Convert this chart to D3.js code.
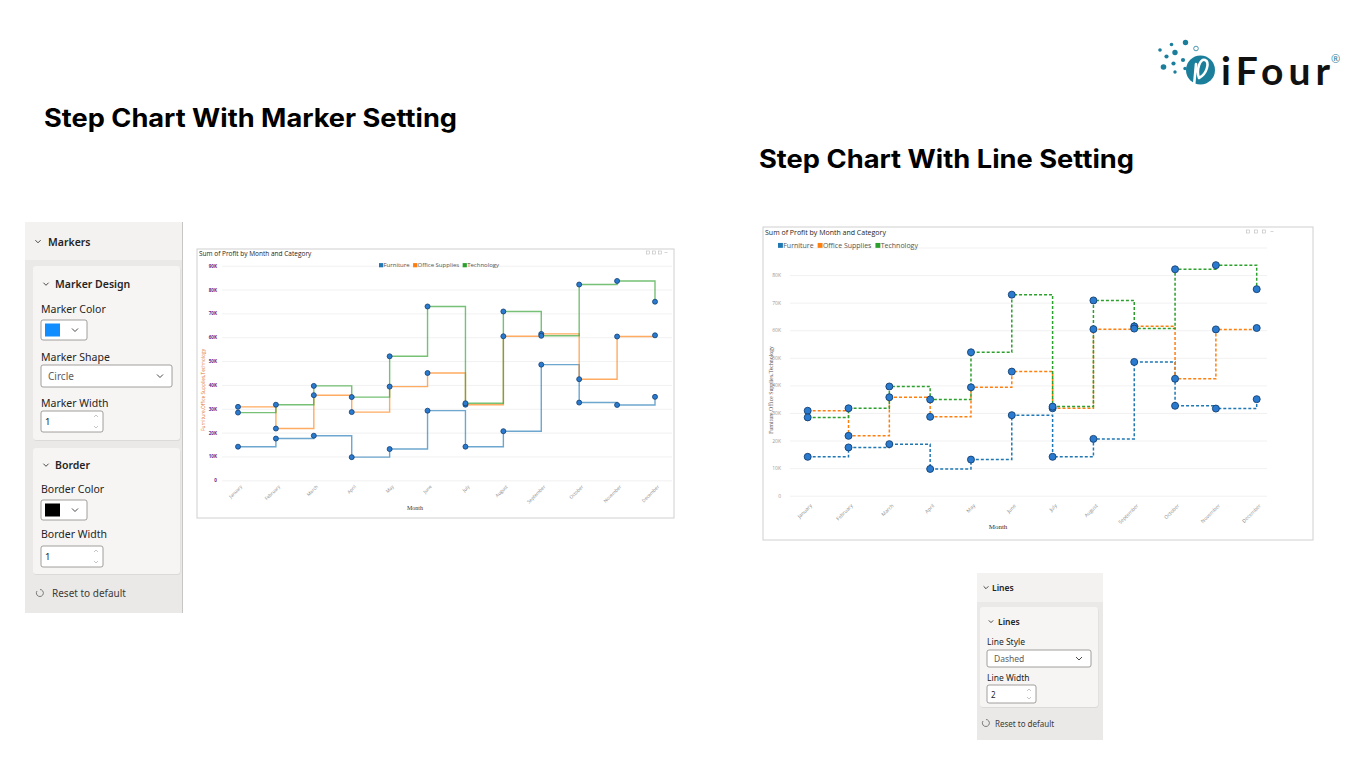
<!DOCTYPE html>
<html><head><meta charset="utf-8">
<script src="https://cdn.jsdelivr.net/npm/d3@7"></script>
<style>
html,body{margin:0;padding:0;background:#fff;}
svg{display:block;font-family:"Open Sans",sans-serif;}
</style></head>
<body><svg id="s" width="1366" height="768"></svg>
<script>
// ---------- data ----------
const months = ["January","February","March","April","May","June","July","August","September","October","November","December"];
const furniture = [14100,17500,18700,9700,13100,29200,14100,20600,48500,32600,31600,35000];
const officeSupplies = [30800,21700,35700,28600,39300,45000,31700,60400,61400,42400,60300,60800];
const technology = [28400,31700,39600,34900,52000,72900,32300,70800,60600,82100,83600,74900];
const seriesNames = ["Furniture","Office Supplies","Technology"];
const seriesColors = ["#1f77b4","#ff7f0e","#2ca02c"];
const yTicks = [0,10000,20000,30000,40000,50000,60000,70000,80000,90000];
const chartTitle = "Sum of Profit by Month and Category";
const yAxisTitle = "Furniture,Office Supplies,Technology";
const xAxisTitle = "Month";

const svg = d3.select("#s");
const seriesData = [furniture, officeSupplies, technology];

// ---------- slide headings ----------
svg.append("text").attr("x",44).attr("y",127).attr("font-family","Inter").attr("font-weight",700)
  .attr("font-size",25).attr("fill","#000").attr("textLength",413).attr("lengthAdjust","spacingAndGlyphs")
  .text("Step Chart With Marker Setting");
svg.append("text").attr("x",759).attr("y",168).attr("font-family","Inter").attr("font-weight",700)
  .attr("font-size",25).attr("fill","#000").attr("textLength",375).attr("lengthAdjust","spacingAndGlyphs")
  .text("Step Chart With Line Setting");

// ---------- logo ----------
const logo = svg.append("g");
const teal = "#1b7f9c";
const dots = [[1160,50,1.8],[1171.5,44.5,1.8],[1185.5,42.5,2.7],[1166.5,56.5,2.1],[1175,52.5,2.7],[1163.5,67,2.8],[1173.5,63.5,2.1],[1183,60,2.1],[1185,68.5,1.7],[1175,72,1.7]];
logo.selectAll("circle.d").data(dots).join("circle").attr("cx",d=>d[0]).attr("cy",d=>d[1]).attr("r",d=>d[2]).attr("fill",teal);
logo.append("circle").attr("cx",1200.5).attr("cy",70).attr("r",14.5).attr("fill",teal);
logo.append("path").attr("d","M1196,64 L1194,86 M1199,78 C1196,70 1200,58 1205,60 C1210,62 1207,74 1199,78")
  .attr("fill","none").attr("stroke","#fff").attr("stroke-width",2.6).attr("stroke-linecap","round");
logo.append("circle").attr("cx",1196).attr("cy",48.5).attr("r",2.3).attr("fill","#fff").attr("stroke",teal).attr("stroke-width",0.8);
logo.append("text").attr("x",1221).attr("y",85).attr("font-family","Lato").attr("font-weight",700).attr("font-size",39)
  .attr("fill","#111").attr("textLength",109).attr("lengthAdjust","spacing").text("iFour");
logo.append("text").attr("x",1331).attr("y",63).attr("font-size",11).attr("fill",teal).text("®");

// ---------- chart builder ----------
function drawChart(o){
  const g = svg.append("g");
  g.append("rect").attr("x",o.box[0]).attr("y",o.box[1]).attr("width",o.box[2]).attr("height",o.box[3])
    .attr("fill","#fff").attr("stroke","#d0d0d0").attr("stroke-width",1);
  g.append("text").attr("x",o.box[0]+2).attr("y",o.titleY).attr("font-family","Open Sans").attr("font-size",o.titleSize)
    .attr("fill","#252423").text(chartTitle);
  const ic = g.append("g").attr("stroke","#bbb").attr("fill","none").attr("stroke-width",0.6);
  for(let i=0;i<4;i++){
    const cx = o.iconX + i*o.iconGap;
    if(i<3) ic.append("rect").attr("x",cx-1.5).attr("y",o.iconY-1.5).attr("width",3).attr("height",3);
    else ic.append("line").attr("x1",cx-1.5).attr("x2",cx+1.5).attr("y1",o.iconY).attr("y2",o.iconY);
  }

  const x = d3.scalePoint().domain(months).range(o.xRange);
  const y = d3.scaleLinear().domain([0,90000]).range(o.yRange);

  g.append("g").attr("transform",`translate(${o.gridX[0]},0)`)
    .call(d3.axisLeft(y).tickValues(yTicks).tickSize(-(o.gridX[1]-o.gridX[0])).tickFormat(""))
    .call(a=>a.select(".domain").remove())
    .call(a=>a.selectAll("line").attr("stroke","#eeeeee").attr("stroke-width",0.8));
  g.append("g").attr("transform",`translate(${o.yLabelX},0)`)
    .call(d3.axisLeft(y).tickValues(yTicks.filter(t=>t<=o.yMaxLabel)).tickSize(0).tickPadding(0)
      .tickFormat(d=>d===0?"0":(d/1000)+"K"))
    .call(a=>a.select(".domain").remove())
    .call(a=>a.selectAll("text").attr("font-family","Open Sans").attr("font-size",o.yLabelSize)
      .attr("font-weight",o.yLabelWeight).attr("fill",o.yLabelColor));
  g.append("g").attr("transform",`translate(0,${o.xLabelY})`)
    .call(d3.axisBottom(x).tickSize(0).tickPadding(0))
    .call(a=>a.select(".domain").remove())
    .call(a=>a.selectAll("text").attr("font-family","Open Sans").attr("font-size",o.xLabelSize).attr("fill","#8a8a8a")
      .attr("text-anchor","end").attr("dy","0.3em").attr("transform","translate(3,0) rotate(-45)"));
  g.append("text").attr("transform",`translate(${o.yTitle[0]},${o.yTitle[1]}) rotate(-90)`).attr("text-anchor","middle")
    .attr("font-family",o.yTitleFont).attr("font-size",o.yTitleSize).attr("fill",o.yTitleColor).text(yAxisTitle);
  g.append("text").attr("x",o.xTitle[0]).attr("y",o.xTitle[1]).attr("text-anchor","middle")
    .attr("font-family","Liberation Serif").attr("font-size",o.xTitleSize).attr("fill","#333").text(xAxisTitle);

  const lg = g.append("g").attr("font-family","Open Sans").attr("font-size",o.legendSize).attr("fill","#555");
  let lx = o.legendX;
  seriesNames.forEach((n,i)=>{
    lg.append("rect").attr("x",lx).attr("y",o.legendY-o.legendSize*0.65).attr("width",o.legendSize*0.7).attr("height",o.legendSize*0.7).attr("fill",seriesColors[i]);
    const t = lg.append("text").attr("x",lx+o.legendSize*0.75).attr("y",o.legendY).attr("fill","#555").text(n);
    lx += o.legendSize*0.75 + t.node().getComputedTextLength() + o.legendGap;
  });

  const line = d3.line().x((d,i)=>x(months[i])).y(d=>y(d)).curve(d3.curveStepAfter);
  seriesData.forEach((s,i)=>{
    g.append("path").datum(s).attr("d",line).attr("fill","none").attr("stroke",seriesColors[i])
      .attr("stroke-width",o.lineWidth).attr("stroke-opacity",o.lineOpacity)
      .attr("stroke-dasharray",o.dash||null);
  });
  seriesData.forEach((s,i)=>{
    g.append("g").selectAll("circle").data(s).join("circle")
      .attr("cx",(d,j)=>x(months[j])).attr("cy",d=>y(d)).attr("r",o.markerR)
      .attr("fill","#2a7bd0").attr("stroke","#123f73").attr("stroke-width",o.markerStroke);
  });
}

drawChart({
  box:[197,249,477,269], titleY:256, titleSize:6.5,
  iconX:648, iconY:252.5, iconGap:6,
  xRange:[238,655], yRange:[480.3,265.7], gridX:[222,672],
  yLabelX:217, yMaxLabel:90000, yLabelSize:4.6, yLabelWeight:700, yLabelColor:"#6b1f86",
  xLabelY:486, xLabelSize:4.6,
  yTitle:[204.5,390], yTitleFont:"Open Sans", yTitleSize:4.8, yTitleColor:"#e0712a",
  xTitle:[415,510], xTitleSize:6,
  legendX:379, legendY:267, legendSize:6, legendGap:3.5,
  lineWidth:1.4, lineOpacity:0.65, markerR:2.5, markerStroke:0.8
});
drawChart({
  box:[763,227,550,313], titleY:234.5, titleSize:7,
  iconX:1248, iconY:231.5, iconGap:8,
  xRange:[807.7,1256.7], yRange:[495.7,247.5], gridX:[790,1267],
  yLabelX:781, yMaxLabel:80000, yLabelSize:5, yLabelWeight:400, yLabelColor:"#9a9a9a",
  xLabelY:505, xLabelSize:5,
  yTitle:[773,390], yTitleFont:"Liberation Serif", yTitleSize:5.8, yTitleColor:"#555",
  xTitle:[998,529], xTitleSize:7,
  legendX:778, legendY:247.5, legendSize:7, legendGap:4,
  lineWidth:1.5, lineOpacity:1, dash:"3,2", markerR:3.5, markerStroke:0.9
});

// ---------- format panels ----------
const panelFont = "Noto Sans";
function chevron(g,x,y,s){
  g.append("path").attr("d",`M${x-s},${y-s/2} L${x},${y+s/2} L${x+s},${y-s/2}`).attr("fill","none").attr("stroke","#333").attr("stroke-width",0.9);
}
function label(g,x,y,t,size,weight,color){
  g.append("text").attr("x",x).attr("y",y).attr("font-family",panelFont).attr("font-size",size||10.5)
    .attr("font-weight",weight||400).attr("fill",color||"#252423").text(t);
}
function card(g,x,y,w,h){
  g.append("rect").attr("x",x+0.5).attr("y",y+1).attr("width",w).attr("height",h).attr("rx",3).attr("fill","#dcdad8");
  g.append("rect").attr("x",x).attr("y",y).attr("width",w).attr("height",h).attr("rx",3).attr("fill","#f6f5f4");
}
function colorBtn(g,x,y,c){
  g.append("rect").attr("x",x).attr("y",y).attr("width",46).attr("height",20).attr("rx",2).attr("fill","#fff").attr("stroke","#8a8886").attr("stroke-width",0.8);
  g.append("rect").attr("x",x+4).attr("y",y+3.5).attr("width",15).attr("height",13).attr("fill",c);
  chevron(g,x+34,y+10,3);
}
function dropdown(g,x,y,w,h,t,size){
  g.append("rect").attr("x",x).attr("y",y).attr("width",w).attr("height",h).attr("rx",2).attr("fill","#fff").attr("stroke","#8a8886").attr("stroke-width",0.8);
  label(g,x+7,y+h/2+3.5,t,size,400,"#605e5c");
  chevron(g,x+w-12,y+h/2,3);
}
function spin(g,x,y,w,h,t,size){
  g.append("rect").attr("x",x).attr("y",y).attr("width",w).attr("height",h).attr("rx",2).attr("fill","#fff").attr("stroke","#8a8886").attr("stroke-width",0.8);
  label(g,x+4,y+h/2+3.5,t,size,400,"#252423");
  const sx = x+w-7;
  g.append("path").attr("d",`M${sx-2},${y+6} L${sx},${y+4} L${sx+2},${y+6} M${sx-2},${y+h-6} L${sx},${y+h-4} L${sx+2},${y+h-6}`)
    .attr("fill","none").attr("stroke","#a19f9d").attr("stroke-width",0.6);
}
function resetIcon(g,x,y){
  g.append("path").attr("d",`M${x-3},${y-2} A3.5,3.5 0 1 0 ${x},${y-3.5}`).attr("fill","none").attr("stroke","#605e5c").attr("stroke-width",0.8);
}

const mp = svg.append("g");
mp.append("rect").attr("x",25).attr("y",222).attr("width",157).attr("height",391).attr("fill","#ebe9e7");
mp.append("rect").attr("x",25).attr("y",222).attr("width",157).attr("height",38).attr("fill","#f3f2f1");
mp.append("line").attr("x1",182.5).attr("x2",182.5).attr("y1",222).attr("y2",613).attr("stroke","#c8c6c4").attr("stroke-width",1);
chevron(mp,38,241.5,2.6); label(mp,48,245.5,"Markers",10.5,600);
card(mp,33,266,147,174);
chevron(mp,46,284,2.6); label(mp,55,288,"Marker Design",10.5,600);
label(mp,41,313,"Marker Color");
colorBtn(mp,41,320,"#118dff");
label(mp,41,361,"Marker Shape");
dropdown(mp,41,365,131,22,"Circle",10);
label(mp,41,407,"Marker Width");
spin(mp,41,411,62,21,"1",9.5);
card(mp,33,448,147,126);
chevron(mp,46,465,2.6); label(mp,55,469,"Border",10.5,600);
label(mp,41,493,"Border Color");
colorBtn(mp,41,500,"#000");
label(mp,41,538,"Border Width");
spin(mp,41,546,62,21,"1",9.5);
resetIcon(mp,40,593); label(mp,52,597,"Reset to default",10,400,"#3b3a39");

const lp = svg.append("g");
lp.append("rect").attr("x",977).attr("y",573).attr("width",126).attr("height",167).attr("fill","#ebe9e7");
lp.append("rect").attr("x",977).attr("y",573).attr("width",126).attr("height",29).attr("fill","#f3f2f1");
chevron(lp,986,587.5,2.4); label(lp,992,591,"Lines",8.5,600);
card(lp,980,607,118,100);
chevron(lp,991,621.5,2.2); label(lp,998,625,"Lines",8.5,600);
label(lp,987,645,"Line Style",8.5);
dropdown(lp,987,650,104,17,"Dashed",8.5);
label(lp,987,681,"Line Width",8.5);
spin(lp,987,685,49,18,"2",8);
resetIcon(lp,986,723); label(lp,995,726.5,"Reset to default",8,400,"#3b3a39");
</script></body></html>
